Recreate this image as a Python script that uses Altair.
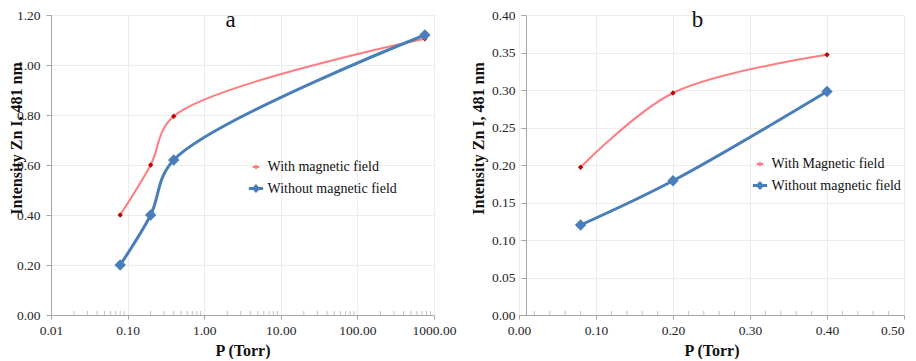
import altair as alt
import pandas as pd

# ---- data ----
series_a = ["With magnetic field", "Without magnetic field"]
p_a = [0.08, 0.2, 0.4, 760]
with_a = [0.40, 0.60, 0.795, 1.105]
without_a = [0.20, 0.40, 0.62, 1.12]

series_b = ["With Magnetic field", "Without magnetic field"]
p_b = [0.08, 0.2, 0.4]
with_b = [0.197, 0.296, 0.347]
without_b = [0.12, 0.179, 0.298]

x_ticks_a = [0.01, 0.1, 1, 10, 100, 1000]
x_minor_a = [m * d for d in [0.01, 0.1, 1, 10, 100] for m in range(2, 10)]
y_ticks_a = [0, 0.2, 0.4, 0.6, 0.8, 1.0, 1.2]

x_ticks_b = [0, 0.1, 0.2, 0.3, 0.4, 0.5]
x_minor_b = [0.02, 0.04, 0.06, 0.08, 0.12, 0.14, 0.16, 0.18, 0.22, 0.24, 0.26, 0.28,
             0.32, 0.34, 0.36, 0.38, 0.42, 0.44, 0.46, 0.48]
y_ticks_b = [0, 0.05, 0.1, 0.15, 0.2, 0.25, 0.3, 0.35, 0.4]

LINE_COLORS = ["#FF7C80", "#4A7EBB"]
POINT_COLORS = ["#C00000", "#4A7EBB"]
POINT_SIZES = [28, 130]
LINE_WIDTHS = [2, 3]
SERIF = "Liberation Serif"
AXIS_GRAY = "#A6A6A6"
LEGEND_PATH = "M-1.25,0H1.25M0,-0.4L0.4,0L0,0.4L-0.4,0Z"


def frame(p, a, b, names):
    rows = []
    for x, v in zip(p, a):
        rows.append({"P": x, "I": v, "S": names[0]})
    for x, v in zip(p, b):
        rows.append({"P": x, "I": v, "S": names[1]})
    return pd.DataFrame(rows)


def panel(df, names, xscale, xvals, minor, yscale, yvals, letter, dx, lx, ly, width,
          y_offset, title_x, label_align):
    x_axis = alt.Axis(values=xvals, format=".2f", grid=True, gridColor="#EDEDED",
                      title="P (Torr)", tickSize=4, tickColor=AXIS_GRAY,
                      domainColor=AXIS_GRAY, labelPadding=4, titlePadding=6,
                      labelOverlap=False, labelFlush=False, labelAlign=label_align)
    y_axis = alt.Axis(values=yvals, format=".2f", grid=True, gridColor="#EDEDED",
                      title="Intensity Zn I, 481 nm", tickSize=5, tickColor=AXIS_GRAY,
                      domainColor=AXIS_GRAY, labelPadding=6, titlePadding=4,
                      titleY=123, titleX=title_x, offset=y_offset, labelOverlap=False)
    x = alt.X("P:Q", scale=xscale, axis=x_axis)
    y = alt.Y("I:Q", scale=yscale, axis=y_axis)

    tick_df = pd.DataFrame({"P": minor, "I": [0.0] * len(minor)})
    ticks = alt.Chart(tick_df).mark_tick(
        orient="vertical", size=4, thickness=1, color=AXIS_GRAY, yOffset=-2
    ).encode(x=x, y=y)

    lines = alt.Chart(df).mark_line(interpolate="catmull-rom").encode(
        x=x, y=y,
        color=alt.Color("S:N", scale=alt.Scale(domain=names, range=LINE_COLORS),
                        legend=alt.Legend(title=None, orient="none", legendX=lx, legendY=ly,
                                          symbolType=LEGEND_PATH, symbolSize=400,
                                          symbolStrokeWidth=2, labelFont=SERIF,
                                          labelFontSize=14, labelColor="#111111",
                                          labelOffset=4, rowPadding=6, padding=0)),
        strokeWidth=alt.StrokeWidth("S:N", scale=alt.Scale(domain=names, range=LINE_WIDTHS),
                                    legend=None),
    )
    points = alt.Chart(df).mark_point(shape="diamond", filled=True, opacity=1).encode(
        x=x, y=y,
        fill=alt.Fill("S:N", scale=alt.Scale(domain=names, range=POINT_COLORS), legend=None),
        size=alt.Size("S:N", scale=alt.Scale(domain=names, range=POINT_SIZES), legend=None),
    )
    return alt.layer(ticks, lines, points).properties(
        width=width, height=300,
        title=alt.TitleParams(letter, font=SERIF, fontSize=23, fontWeight="normal",
                              anchor="middle", dx=dx, offset=-24, color="#111111"),
    )


left = panel(
    frame(p_a, with_a, without_a, series_a), series_a,
    alt.Scale(type="log", domain=[0.01, 1000], nice=False), x_ticks_a, x_minor_a,
    alt.Scale(domain=[0, 1.2], nice=False), y_ticks_a, "a", -12, 197.5, 145, 383,
    0, -27, "center",
)
right = panel(
    frame(p_b, with_b, without_b, series_b), series_b,
    alt.Scale(domain=[0, 0.5], nice=False), x_ticks_b, x_minor_b,
    alt.Scale(domain=[0, 0.4], nice=False), y_ticks_b, "b", -14, 233.5, 142, 385,
    -7, -40,
    {"condition": {"test": "datum.value >= 0.49", "value": "right"}, "value": "center"},
)

chart = alt.hconcat(left, right, spacing=13).resolve_scale(
    color="independent", fill="independent", size="independent", strokeWidth="independent"
).resolve_legend(color="independent").properties(
    padding={"left": 0, "top": 0, "right": 0, "bottom": 0}
).configure_view(stroke=None).configure_axis(
    labelFont=SERIF, labelFontSize=13.5, labelColor="#262626",
    titleFont=SERIF, titleFontSize=16, titleFontWeight="bold", titleColor="#111111",
).configure_title(font=SERIF)

chart.save("out.html", embed_options={"renderer": "svg", "actions": False})
